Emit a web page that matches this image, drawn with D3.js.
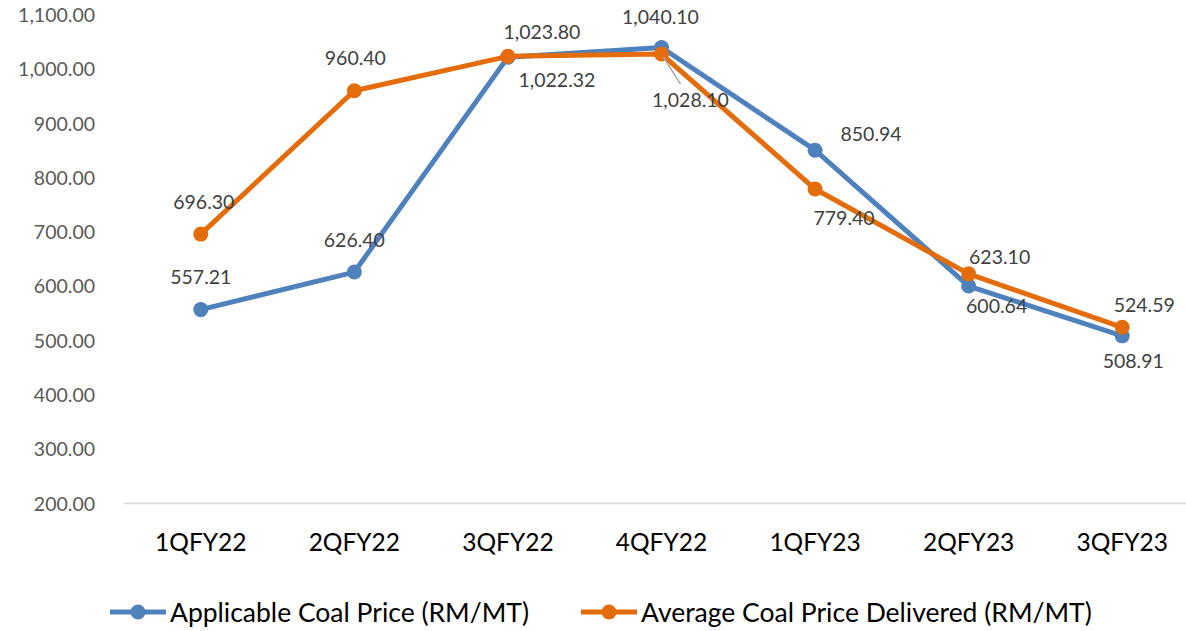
<!DOCTYPE html>
<html>
<head>
<meta charset="utf-8">
<script src="https://cdn.jsdelivr.net/npm/d3@7"></script>
<style>
  body { margin: 0; background: #fff; }
  text { font-family: Lato, "Open Sans", sans-serif; }
</style>
</head>
<body>
<script>
// categories and values
var quarters = ["1QFY22", "2QFY22", "3QFY22", "4QFY22", "1QFY23", "2QFY23", "3QFY23"];
var applicablePrice = [557.21, 626.40, 1022.32, 1040.10, 850.94, 600.64, 508.91];
var deliveredPrice = [696.30, 960.40, 1023.80, 1028.10, 779.40, 623.10, 524.59];
var yTicks = [200, 300, 400, 500, 600, 700, 800, 900, 1000, 1100];
var seriesNames = ["Applicable Coal Price (RM/MT)", "Average Coal Price Delivered (RM/MT)"];

// label nudges (pixels from the marker), like Excel placed them
var applicableOffsets = [[0, -33], [0, -32], [49, 23], [-1, -31], [56, -16], [28, 20], [11, 25]];
var deliveredOffsets = [[3, -32], [1, -33], [34, -24], [29, 46], [29, 29], [31, -17], [22, -22]];

var width = 1186, height = 631;
var blue = "#4f81bd", orange = "#e46c0a";

var svg = d3.select("body").append("svg")
    .attr("width", width)
    .attr("height", height);

var x = d3.scalePoint()
    .domain(quarters)
    .range([124, 1199])
    .padding(0.5);

var y = d3.scaleLinear()
    .domain([200, 1100])
    .range([503.5, 15]);

var fmt = d3.format(",.2f");

// baseline
svg.append("line")
    .attr("x1", 124).attr("x2", width)
    .attr("y1", y(200)).attr("y2", y(200))
    .attr("stroke", "#d9d9d9").attr("stroke-width", 1.5);

// y tick labels
svg.append("g").selectAll("text")
    .data(yTicks)
    .enter().append("text")
    .attr("x", 95)
    .attr("y", function(d) { return y(d); })
    .attr("dy", "0.36em")
    .attr("text-anchor", "end")
    .attr("font-size", 19.5)
    .attr("fill", "#595959")
    .text(function(d) { return fmt(d); });

// category labels
svg.append("g").selectAll("text")
    .data(quarters)
    .enter().append("text")
    .attr("x", function(d) { return x(d); })
    .attr("y", 542)
    .attr("dy", "0.36em")
    .attr("text-anchor", "middle")
    .attr("font-size", 24.5)
    .attr("fill", "#000")
    .text(function(d) { return d; });

var line = d3.line()
    .x(function(d, i) { return x(quarters[i]); })
    .y(function(d) { return y(d); });

function drawSeries(values, color) {
    svg.append("path")
        .datum(values)
        .attr("d", line)
        .attr("fill", "none")
        .attr("stroke", color)
        .attr("stroke-width", 5)
        .attr("stroke-linejoin", "round");

    svg.append("g").selectAll("circle")
        .data(values)
        .enter().append("circle")
        .attr("cx", function(d, i) { return x(quarters[i]); })
        .attr("cy", function(d) { return y(d); })
        .attr("r", 7.5)
        .attr("fill", color);
}

drawSeries(applicablePrice, blue);
drawSeries(deliveredPrice, orange);

// leader line for the 4QFY22 delivered label
svg.append("line")
    .attr("x1", x(quarters[3]) + 2).attr("y1", y(deliveredPrice[3]) + 3)
    .attr("x2", x(quarters[3]) + deliveredOffsets[3][0] - 10)
    .attr("y2", y(deliveredPrice[3]) + deliveredOffsets[3][1] - 16)
    .attr("stroke", "#a6a6a6").attr("stroke-width", 1.5);

function drawLabels(values, offsets) {
    svg.append("g").selectAll("text")
        .data(values)
        .enter().append("text")
        .attr("x", function(d, i) { return x(quarters[i]) + offsets[i][0]; })
        .attr("y", function(d, i) { return y(d) + offsets[i][1]; })
        .attr("dy", "0.36em")
        .attr("text-anchor", "middle")
        .attr("font-size", 19.5)
        .attr("fill", "#404040")
        .text(function(d) { return fmt(d); });
}

drawLabels(applicablePrice, applicableOffsets);
drawLabels(deliveredPrice, deliveredOffsets);

// legend
var legendX = [110, 581];
var legend = svg.append("g").selectAll("g")
    .data(seriesNames)
    .enter().append("g")
    .attr("transform", function(d, i) { return "translate(" + legendX[i] + ",612)"; });

legend.append("line")
    .attr("x1", 0).attr("x2", 56)
    .attr("stroke", function(d, i) { return i ? orange : blue; })
    .attr("stroke-width", 5);

legend.append("circle")
    .attr("cx", 28).attr("r", 7.5)
    .attr("fill", function(d, i) { return i ? orange : blue; });

legend.append("text")
    .attr("x", 60)
    .attr("dy", "0.36em")
    .attr("font-size", 26.5)
    .attr("fill", "#000")
    .text(function(d) { return d; });
</script>
</body>
</html>
